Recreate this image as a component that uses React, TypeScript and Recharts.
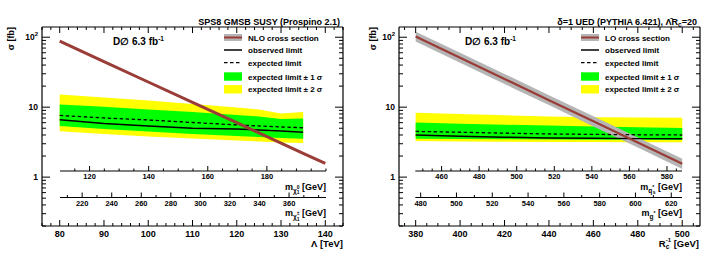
import React from 'react';
import { ComposedChart, Area, Line, XAxis, YAxis } from 'recharts';

const W = 725;
const H = 253;
const FONT = '"Liberation Sans", Arial, Helvetica, sans-serif';
const BROWN = '#9a3c37';
const GRAY = '#b5b5b5';
const GREEN = '#00ff00';
const YELLOW = '#ffff00';

// ---------------- left panel: SPS8 GMSB SUSY ----------------
const lambdaTeV = [80, 90, 100, 110, 120, 125, 130, 135, 140];
const gmsbNLO = [87.7, 44.9, 22.9, 11.7, 6.0, 4.29, 3.07, 2.19, 1.57];
const gmsbObs = [6.61, 5.85, 5.39, 5.01, 4.88, 4.72, 4.57, 4.39, null];
const gmsbExp = [7.61, 7.01, 6.56, 6.04, 5.57, 5.39, 5.21, 5.08, null];
const gmsb1sLo = [5.39, 4.88, 4.5, 4.14, 3.88, 3.75, 3.63, 3.54, null];
const gmsb1sHi = [10.9, 10.1, 9.27, 8.54, 7.74, 7.36, 6.78, 6.9, null];
const gmsb2sLo = [4.54, 4.14, 3.81, 3.57, 3.34, 3.24, 3.13, 3.08, null];
const gmsb2sHi = [15.2, 13.8, 12.5, 11.1, 9.9, 9.27, 8.13, 8.54, null];

const leftXMajor = [80, 90, 100, 110, 120, 130, 140];
const neutralinoMajor = [120, 140, 160, 180];
const charginoMajor = [220, 240, 260, 280, 300, 320, 340, 360];

// ---------------- right panel: UED ----------------
const rcInv = [380, 400, 420, 440, 460, 480, 500];
const uedLO = [102.3, 50.9, 25.3, 12.6, 6.27, 3.12, 1.55];
const uedLOhi = [120, 60, 29.8, 14.8, 7.4, 3.68, 1.83];
const uedLOlo = [86.7, 43.1, 21.4, 10.7, 5.31, 2.64, 1.31];
const uedObs = [4.0, 3.85, 3.72, 3.63, 3.58, 3.55, 3.54];
const uedExp = [4.5, 4.38, 4.25, 4.14, 4.08, 4.03, 4.0];
const ued1sLo = [3.54, 3.51, 3.48, 3.46, 3.43, 3.41, 3.4];
const ued1sHi = [6.04, 5.8, 5.6, 5.48, 5.3, 5.15, 5.05];
const ued2sLo = [3.27, 3.24, 3.2, 3.18, 3.17, 3.16, 3.16];
const ued2sHi = [8.3, 8.0, 7.65, 7.36, 7.2, 7.1, 7.06];

const rightXMajor = [380, 400, 420, 440, 460, 480, 500];
const qstarMajor = [460, 480, 500, 520, 540, 560, 580];
const gstarMajor = [480, 500, 520, 540, 560, 580, 600, 620];

const yMajor = [1, 10, 100];
const yMinor = [0.2, 0.3, 0.4, 0.5, 0.6, 0.7, 0.8, 0.9, 2, 3, 4, 5, 6, 7, 8, 9, 20, 30, 40, 50, 60, 70, 80, 90];
const yTicks = [...yMinor, ...yMajor];

const legendLabels = ['observed limit', 'expected limit', 'expected limit \u00b1 1 \u03c3', 'expected limit \u00b1 2 \u03c3'];

const steps = (a: number, b: number, s: number) => {
  const r: number[] = [];
  for (let v = a; v <= b + 1e-9; v += s) r.push(Math.round(v * 1000) / 1000);
  return r;
};

const leftRows = lambdaTeV.map((x, i) => ({
  x,
  xs: gmsbNLO[i],
  obs: gmsbObs[i],
  exp: gmsbExp[i],
  s1: gmsb1sLo[i] == null ? null : [gmsb1sLo[i], gmsb1sHi[i]],
  s2: gmsb2sLo[i] == null ? null : [gmsb2sLo[i], gmsb2sHi[i]],
}));

const rightRows = rcInv.map((x, i) => ({
  x,
  xs: uedLO[i],
  xsBand: [uedLOlo[i], uedLOhi[i]],
  obs: uedObs[i],
  exp: uedExp[i],
  s1: [ued1sLo[i], ued1sHi[i]],
  s2: [ued2sLo[i], ued2sHi[i]],
}));

const AX = { stroke: '#000', strokeWidth: 1.2 };
const T = { fontFamily: FONT, fontWeight: 700, fill: '#000' } as const;

const isIn = (v: number, arr: number[]) => arr.some((a) => Math.abs(a - v) < 1e-6);

// frame x ticks (bottom: dir=1 draws upward; top: dir=-1 draws downward)
const FrameXTick = (p: any) => {
  const { x, y, payload, majors, dir, label } = p;
  const v = payload.value;
  const major = isIn(v, majors);
  const len = major ? 6 : 3;
  return (
    <g>
      <line x1={x} x2={x} y1={y} y2={y - dir * len} stroke="#000" strokeWidth={1} />
      {label && major ? (
        <text x={x} y={y + 7.5} textAnchor="middle" dominantBaseline="central" fontSize={9} {...T}>
          {v}
        </text>
      ) : null}
    </g>
  );
};

const FrameYTick = (p: any) => {
  const { x, y, payload, dir, label } = p;
  const v = payload.value;
  const major = isIn(v, yMajor);
  const len = major ? 8 : 4;
  return (
    <g>
      <line x1={x} x2={x + dir * len} y1={y} y2={y} stroke="#000" strokeWidth={1} />
      {label && major ? (
        <text x={x - 4} y={y + 3} textAnchor="end" fontSize={8.5} {...T}>
          {v === 100 ? (
            <>
              10<tspan dy={-4} fontSize={6}>2</tspan>
            </>
          ) : (
            String(v)
          )}
        </text>
      ) : null}
    </g>
  );
};

const SecTick = (p: any) => {
  const { x, y, payload, majors } = p;
  const v = payload.value;
  const major = isIn(v, majors);
  const len = major ? 5 : 2.5;
  return (
    <g>
      <line x1={x} x2={x} y1={y} y2={y - len} stroke="#000" strokeWidth={1} />
      {major ? (
        <text x={x} y={y + 5.5} textAnchor="middle" dominantBaseline="central" fontSize={7.5} {...T}>
          {v}
        </text>
      ) : null}
    </g>
  );
};

type PanelProps = {
  rows: any[];
  left: number;
  right: number;
  yW: number;
  yWR: number;
  domain: [number, number];
  xTicks: number[];
  xMajor: number[];
  band?: boolean;
};

const Panel = ({ rows, left, right, yW, yWR, domain, xTicks, xMajor, band }: PanelProps) => (
  <div style={{ position: 'absolute', left: 0, top: 0 }}>
    <ComposedChart width={W} height={H} data={rows} margin={{ top: 0, bottom: 0, left, right: W - right }}>
      <XAxis
        xAxisId="b"
        dataKey="x"
        type="number"
        domain={domain}
        allowDataOverflow
        ticks={xTicks}
        interval={0}
        tickLine={false}
        tickSize={0}
        tickMargin={0}
        axisLine={AX}
        height={27}
        tick={(p: any) => <FrameXTick {...p} majors={xMajor} dir={1} label />}
      />
      <XAxis
        xAxisId="t"
        orientation="top"
        dataKey="x"
        type="number"
        domain={domain}
        allowDataOverflow
        ticks={xTicks}
        interval={0}
        tickLine={false}
        tickSize={0}
        tickMargin={0}
        axisLine={AX}
        height={27}
        tick={(p: any) => <FrameXTick {...p} majors={xMajor} dir={-1} label={false} />}
      />
      <YAxis
        yAxisId="l"
        type="number"
        scale="log"
        domain={[0.2, 140]}
        allowDataOverflow
        ticks={yTicks}
        interval={0}
        tickLine={false}
        tickSize={0}
        tickMargin={0}
        axisLine={AX}
        width={yW}
        tick={(p: any) => <FrameYTick {...p} dir={1} label />}
      />
      <YAxis
        yAxisId="r"
        orientation="right"
        type="number"
        scale="log"
        domain={[0.2, 140]}
        allowDataOverflow
        ticks={yTicks}
        interval={0}
        tickLine={false}
        tickSize={0}
        tickMargin={0}
        axisLine={AX}
        width={yWR}
        tick={(p: any) => <FrameYTick {...p} dir={-1} label={false} />}
      />
      <Area xAxisId="b" yAxisId="l" type="linear" dataKey="s2" fill={YELLOW} fillOpacity={1} stroke="none" isAnimationActive={false} activeDot={false} />
      <Area xAxisId="b" yAxisId="l" type="linear" dataKey="s1" fill={GREEN} fillOpacity={1} stroke="none" isAnimationActive={false} activeDot={false} />
      <Line xAxisId="b" yAxisId="l" type="linear" dataKey="obs" stroke="#000" strokeWidth={1.5} dot={false} isAnimationActive={false} activeDot={false} />
      <Line xAxisId="b" yAxisId="l" type="linear" dataKey="exp" stroke="#000" strokeWidth={1.3} strokeDasharray="3.5 2.5" dot={false} isAnimationActive={false} activeDot={false} />
      {band ? (
        <Area xAxisId="b" yAxisId="l" type="linear" dataKey="xsBand" fill={GRAY} fillOpacity={1} stroke="none" isAnimationActive={false} activeDot={false} />
      ) : null}
      <Line xAxisId="b" yAxisId="l" type="linear" dataKey="xs" stroke={BROWN} strokeWidth={band ? 2.2 : 3} dot={false} isAnimationActive={false} activeDot={false} />
    </ComposedChart>
  </div>
);

type SecProps = { x0: number; x1: number; lineY: number; domain: [number, number]; majors: number[]; ticks: number[] };
const SecAxis = ({ x0, x1, lineY, domain, majors, ticks }: SecProps) => (
  <div style={{ position: 'absolute', left: 0, top: 0 }}>
    <ComposedChart
      width={W}
      height={H}
      data={[{ m: domain[0] }, { m: domain[1] }]}
      margin={{ top: 0, left: x0, right: W - x1, bottom: H - lineY - 30 }}
    >
      <XAxis
        dataKey="m"
        type="number"
        domain={domain}
        allowDataOverflow
        ticks={ticks}
        interval={0}
        tickLine={false}
        tickSize={0}
        tickMargin={0}
        axisLine={AX}
        height={30}
        tick={(p: any) => <SecTick {...p} majors={majors} />}
      />
      <YAxis hide />
    </ComposedChart>
  </div>
);

const LegendBox = ({ x, tx, first }: { x: number; tx: number; first: string }) => {
  const rows = [37.5, 50, 62.7, 76.5, 89.3];
  const w = 18;
  return (
    <g>
      <rect x={x} y={rows[0] - 3.5} width={w} height={7} fill={GRAY} />
      <line x1={x} x2={x + w} y1={rows[0]} y2={rows[0]} stroke={BROWN} strokeWidth={2} />
      <line x1={x} x2={x + w} y1={rows[1]} y2={rows[1]} stroke="#000" strokeWidth={1.5} />
      <line x1={x} x2={x + w} y1={rows[2]} y2={rows[2]} stroke="#000" strokeWidth={1.3} strokeDasharray="3.5 2.5" />
      <rect x={x} y={rows[3] - 4.2} width={w} height={8.4} fill={GREEN} />
      <rect x={x} y={rows[4] - 4.2} width={w} height={8.4} fill={YELLOW} />
      {[first, ...legendLabels].map((s, i) => (
        <text key={i} x={tx} y={rows[i] + 3} fontSize={8} {...T}>
          {s}
        </text>
      ))}
    </g>
  );
};

const Texts = () => (
  <svg width={W} height={H} style={{ position: 'absolute', left: 0, top: 0 }}>
    {/* titles */}
    <text x={340} y={25} textAnchor="end" fontSize={9} {...T}>
      SPS8 GMSB SUSY (Prospino 2.1)
    </text>
    <text x={697} y={25} textAnchor="end" fontSize={9} {...T}>
      {'\u03b4=1 UED (PYTHIA 6.421), \u039b\u0304R'}
      <tspan dy={2} fontSize={6.5}>c</tspan>
      <tspan dy={-2}>=20</tspan>
    </text>
    {/* D0 labels */}
    {[113, 465].map((x) => (
      <text key={x} x={x} y={44.5} fontSize={10} {...T}>
        {'D\u2205 6.3 fb'}
        <tspan dy={-4} fontSize={6.5}>-1</tspan>
      </text>
    ))}
    {/* y titles */}
    {[13.5, 375.5].map((x) => (
      <text key={x} x={x} y={27} textAnchor="end" fontSize={9} transform={`rotate(-90 ${x} 27)`} {...T}>
        {'\u03c3 [fb]'}
      </text>
    ))}
    {/* x titles */}
    <text x={343} y={246.5} textAnchor="end" fontSize={9.5} {...T}>
      {'\u039b [TeV]'}
    </text>
    <text x={699} y={246.5} textAnchor="end" fontSize={9.5} {...T}>
      R
      <tspan dy={2.5} fontSize={6.5}>c</tspan>
      <tspan dx={-3.6} dy={-7} fontSize={6}>-1</tspan>
      <tspan dy={4.5}>{' [GeV]'}</tspan>
    </text>
    {/* secondary axis titles */}
    <text x={326} y={189.5} textAnchor="end" fontSize={9} {...T}>
      m<tspan dy={3} fontSize={6.5}>{'\u03c7'}</tspan>
      <tspan dy={-4} fontSize={5}>0</tspan>
      <tspan dx={-2.8} dy={5.5} fontSize={5}>1</tspan>
      <tspan dy={-4.5}>{' [GeV]'}</tspan>
    </text>
    <text x={326} y={216} textAnchor="end" fontSize={9} {...T}>
      m<tspan dy={3} fontSize={6.5}>{'\u03c7'}</tspan>
      <tspan dy={-4} fontSize={5}>{'\u00b1'}</tspan>
      <tspan dx={-2.8} dy={5.5} fontSize={5}>1</tspan>
      <tspan dy={-4.5}>{' [GeV]'}</tspan>
    </text>
    <text x={682} y={189.5} textAnchor="end" fontSize={9} {...T}>
      m<tspan dy={3} fontSize={6.5}>q</tspan>
      <tspan dy={-4} fontSize={5}>*</tspan>
      <tspan dx={-1.5} dy={5} fontSize={5}>s</tspan>
      <tspan dy={-4}>{' [GeV]'}</tspan>
    </text>
    <text x={682} y={216} textAnchor="end" fontSize={9} {...T}>
      m<tspan dy={3} fontSize={6.5}>g</tspan>
      <tspan dy={-4} fontSize={5}>*</tspan>
      <tspan dy={1}>{' [GeV]'}</tspan>
    </text>
    <LegendBox x={224} tx={248} first="NLO cross section" />
    <LegendBox x={581} tx={605} first="LO cross section" />
  </svg>
);

export default function App() {
  return (
    <div style={{ position: 'absolute', left: 0, top: 0, width: W, height: H, background: '#fff', overflow: 'hidden' }}>
      <Panel rows={leftRows} left={0} right={362} yW={42} yWR={19} domain={[76, 144]} xTicks={steps(76, 144, 2)} xMajor={leftXMajor} />
      <Panel rows={rightRows} left={360} right={W} yW={39} yWR={25} domain={[372.5, 508]} xTicks={steps(375, 505, 5)} xMajor={rightXMajor} band />
      <SecAxis x0={60} x1={326} lineY={171} domain={[110, 200]} majors={neutralinoMajor} ticks={steps(115, 200, 5)} />
      <SecAxis x0={60} x1={326} lineY={197.5} domain={[205, 385]} majors={charginoMajor} ticks={steps(210, 380, 10)} />
      <SecAxis x0={415.3} x1={682} lineY={171} domain={[446, 588]} majors={qstarMajor} ticks={steps(450, 585, 5)} />
      <SecAxis x0={415.3} x1={682} lineY={197.5} domain={[477, 626]} majors={gstarMajor} ticks={steps(480, 625, 10)} />
      <Texts />
    </div>
  );
}
